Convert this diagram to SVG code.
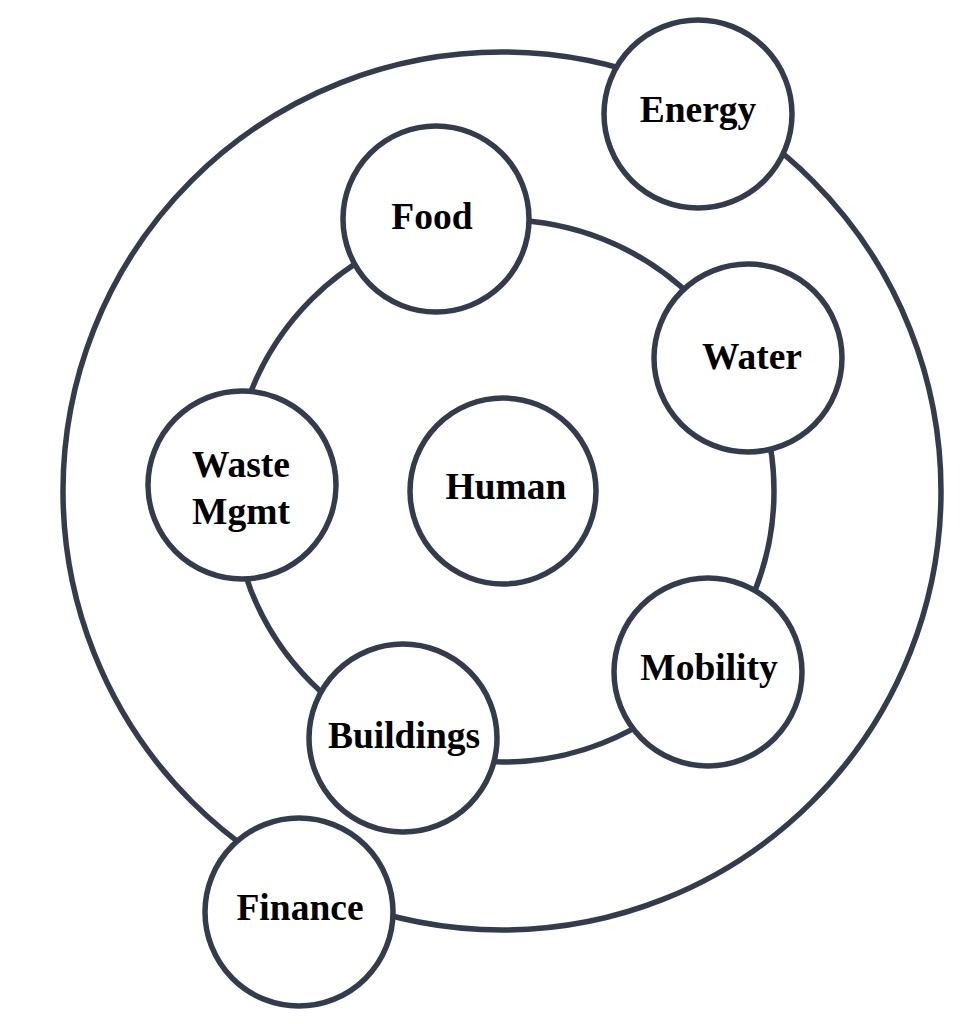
<svg xmlns="http://www.w3.org/2000/svg" width="976" height="1024" viewBox="0 0 976 1024">
  <style>
    .ring { fill: none; stroke: #333b4c; stroke-width: 5.5; }
    .node { fill: #ffffff; stroke: #333b4c; stroke-width: 5.5; }
    .lbl { font-family: "Liberation Serif", "Times New Roman", serif; font-weight: bold; font-size: 37.5px; fill: #000000; text-anchor: middle; }
  </style>
  <rect width="976" height="1024" fill="#ffffff"/>
  <g id="connectors">
    <circle class="ring" cx="502" cy="491" r="439"/>
    <circle class="ring" cx="503" cy="491" r="271"/>
  </g>
  <g id="energy"><circle class="node" cx="698" cy="114" r="94"/><text class="lbl" x="698" y="122">Energy</text></g>
  <g id="food"><circle class="node" cx="436" cy="219" r="93"/><text class="lbl" x="432" y="229">Food</text></g>
  <g id="water"><circle class="node" cx="748" cy="358" r="94"/><text class="lbl" x="752" y="369">Water</text></g>
  <g id="waste"><circle class="node" cx="242" cy="485" r="94"/><text class="lbl" x="241" y="477">Waste</text><text class="lbl" x="241" y="524">Mgmt</text></g>
  <g id="human"><circle class="node" cx="503" cy="491" r="93"/><text class="lbl" x="506" y="499">Human</text></g>
  <g id="mobility"><circle class="node" cx="708" cy="672" r="94"/><text class="lbl" x="709" y="680">Mobility</text></g>
  <g id="buildings"><circle class="node" cx="403" cy="738" r="94"/><text class="lbl" x="404" y="748">Buildings</text></g>
  <g id="finance"><circle class="node" cx="299" cy="912" r="94"/><text class="lbl" x="300" y="920">Finance</text></g>
</svg>
